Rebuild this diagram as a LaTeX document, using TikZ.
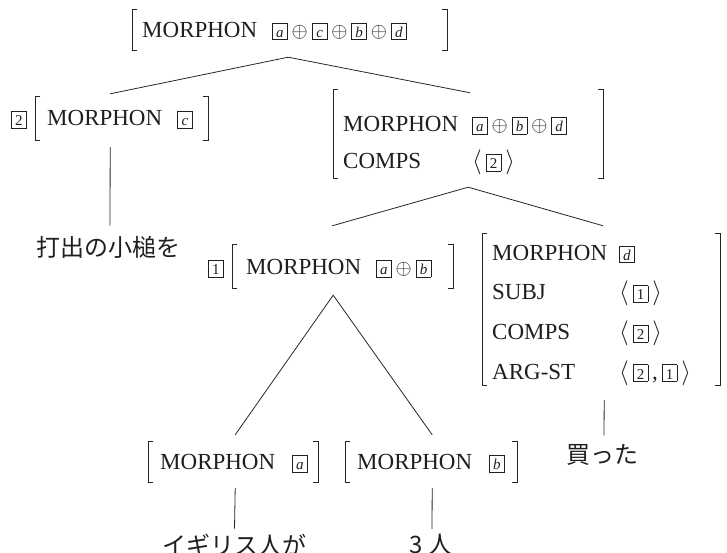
\documentclass[tikz,border=0pt]{standalone}
\usepackage{fontspec}
\setmainfont{Liberation Serif}
\newfontfamily\jpfont{Noto Sans CJK JP}
\usepackage{array}

% small framed index boxes
\newcommand\tagbox[1]{{\setlength\fboxsep{0pt}\setlength\fboxrule{0.75pt}%
  \fbox{\makebox[14pt]{\rule[-2pt]{0pt}{16pt}\fontsize{15}{15}\selectfont #1}}}}
\newcommand\vb[1]{\tagbox{\itshape #1}}
\newcommand\nb[1]{\tagbox{#1}}
\newcommand\op{\hspace{4pt}{\fontsize{20}{20}\selectfont$\oplus$}\hspace{4pt}}
\newcommand\lst[1]{{\fontsize{23}{23}\selectfont$\langle$}\hspace{4pt}#1\hspace{4pt}{\fontsize{23}{23}\selectfont$\rangle$}}

% square brackets around a feature structure node
\newcommand\avmbrackets[1]{%
  \draw[brk] ([xshift=5pt]#1.north west) -- (#1.north west) -- (#1.south west) -- ([xshift=5pt]#1.south west);
  \draw[brk] ([xshift=-5pt]#1.north east) -- (#1.north east) -- (#1.south east) -- ([xshift=-5pt]#1.south east);}

\tikzset{
  avm/.style={inner sep=0pt, anchor=base west, text=black!88,
    font=\fontsize{23}{27}\selectfont},
  idx/.style={inner sep=0pt, anchor=base west, text=black!88},
  brk/.style={line width=0.9pt, black!85},
  branch/.style={line width=0.8pt, black!85},
  word/.style={inner sep=0pt, text=black!88, font=\jpfont\fontsize{24}{24}\selectfont},
}

\begin{document}
\begin{tikzpicture}[x=1pt,y=-1pt]
\useasboundingbox (0,0) rectangle (727,553);

% root
\node[avm, text height=27.5pt, text depth=12.5pt] (top) at (132,37.5)
  {\makebox[315pt][l]{\hspace{10pt}MORPHON\hspace{15pt}\vb{a}\op\vb{c}\op\vb{b}\op\vb{d}}};
\avmbrackets{top}

% object phrase
\node[idx] (t2) at (11,126) {\nb{2}};
\node[avm, text height=29pt, text depth=14pt] (n2) at (35,126)
  {\makebox[173pt][l]{\hspace{12pt}MORPHON\hspace{15pt}\vb{c}}};
\avmbrackets{n2}
\node[word] (w1) at (108,247) {打出の小槌を};

% VP
\node[avm, text height=59pt, text depth=29pt] (r2) at (333,149)
  {\makebox[270pt][l]{\hspace{10pt}\renewcommand\arraystretch{1.37}%
   \begin{tabular}{@{}l@{\hspace{14pt}}l@{}}
   MORPHON & \vb{a}\op\vb{b}\op\vb{d}\\
   COMPS & \lst{\nb{2}}
   \end{tabular}}};
\avmbrackets{r2}

% subject
\node[idx] (t1) at (208,274.5) {\nb{1}};
\node[avm, text height=29.5pt, text depth=13.5pt] (n1) at (232,274.5)
  {\makebox[221pt][l]{\hspace{14pt}MORPHON\hspace{15pt}\vb{a}\op\vb{b}}};
\avmbrackets{n1}

% verb
\node[avm, text height=84pt, text depth=67pt] (v) at (482,318)
  {\makebox[238pt][l]{\hspace{10pt}\renewcommand\arraystretch{1.467}%
   \begin{tabular}{@{}l@{\hspace{12pt}}l@{}}
   MORPHON & \vb{d}\\
   SUBJ & \lst{\nb{1}}\\
   COMPS & \lst{\nb{2}}\\
   ARG-ST & \lst{\nb{2}\,,\hspace{4pt}\nb{1}}
   \end{tabular}}};
\avmbrackets{v}
\node[word] (w4) at (602,455) {買った};

% subject daughters
\node[avm, text height=27.5pt, text depth=12.5pt] (da) at (148,469.5)
  {\makebox[170pt][l]{\hspace{12pt}MORPHON\hspace{17pt}\vb{a}}};
\avmbrackets{da}
\node[avm, text height=27.5pt, text depth=12.5pt] (db) at (345,469.5)
  {\makebox[172pt][l]{\hspace{12pt}MORPHON\hspace{17pt}\vb{b}}};
\avmbrackets{db}
\node[word] (w2) at (234.5,545) {イギリス人が};
\node[word] (w3) at (431,545) {3 人};

% branches
\coordinate (a0) at ([xshift=-1.5pt,yshift=-7pt]top.south);
\draw[branch] ([xshift=-11.5pt,yshift=3pt]n2.north) -- (a0) -- ([xshift=2pt,yshift=-3pt]r2.north);
\draw[branch] ([xshift=-11.5pt,yshift=-7pt]n2.south) -- ([xshift=2pt,yshift=10pt]w1.north);

\coordinate (a1) at ([yshift=-9pt]r2.south);
\draw[branch] ([xshift=-10.5pt,yshift=19pt]n1.north) -- (a1) -- ([xshift=2pt,yshift=8pt]v.north);

\coordinate (a2) at ([xshift=-9.5pt,yshift=-7pt]n1.south);
\draw[branch] ([xshift=2pt,yshift=7pt]da.north) -- (a2) -- ([xshift=1pt,yshift=7pt]db.north);

\draw[branch] ([xshift=3pt,yshift=-15pt]v.south) -- ([xshift=2pt,yshift=9pt]w4.north);
\draw[branch] ([xshift=2pt,yshift=-6pt]da.south) -- ([yshift=5pt]w2.north);
\draw[branch] ([xshift=1pt,yshift=-6pt]db.south) -- ([xshift=1pt,yshift=5pt]w3.north);
\end{tikzpicture}
\end{document}
